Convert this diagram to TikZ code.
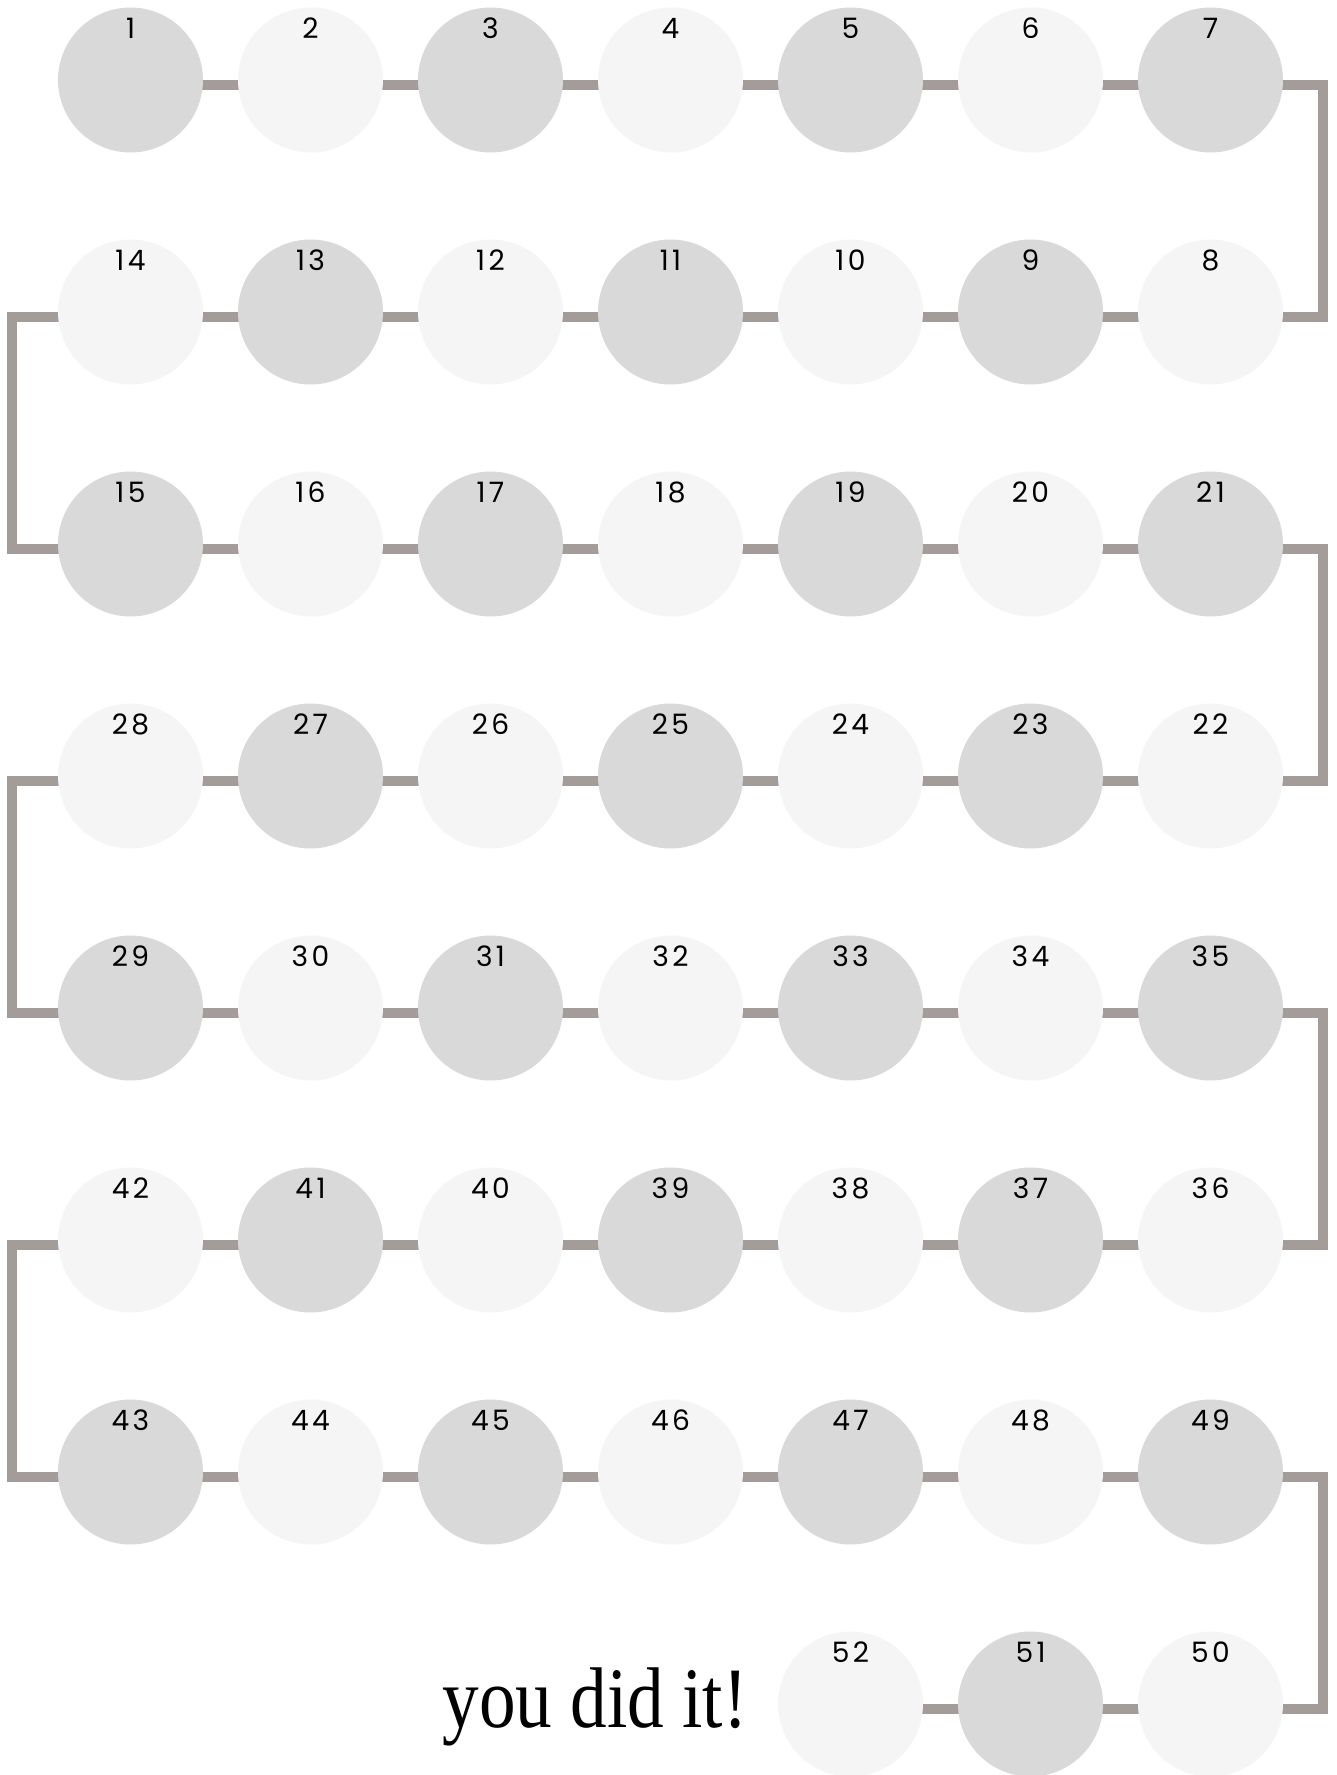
\documentclass[tikz,border=0pt]{standalone}
\usepackage{fontspec}
\setmainfont{Liberation Serif}
\newfontfamily\numfont[LetterSpace=12]{Poppins}
\usetikzlibrary{backgrounds}

\definecolor{beaddark}{HTML}{D9D9D9}
\definecolor{beadlight}{HTML}{F5F5F5}
\definecolor{linkgray}{HTML}{A39C98}

\begin{document}
\begin{tikzpicture}[
  x=0.02cm,y=-0.02cm,
  bead/.style={circle,minimum size=2.9cm,inner sep=0pt,outer sep=0pt},
  bead0/.style={bead,fill=beaddark},
  bead1/.style={bead,fill=beadlight},
  num/.style={font=\numfont\fontsize{16}{16}\selectfont,inner sep=0pt},
  link/.style={draw=linkgray,line width=0.2cm},
  dn/.style={yshift=-0.1cm}]

\useasboundingbox (0,0) rectangle (1337,1775);

% beads, snaking row by row
\foreach \r in {0,...,7}{
  \foreach \c in {0,...,6}{
    \pgfmathtruncatemacro\n{isodd(\r) ? 7*\r+7-\c : 7*\r+\c+1}
    \pgfmathtruncatemacro\k{mod(\r+\c,2)}
    \ifnum\n<53
      \node[bead\k] (c\n) at (130.5+180*\c,80+232*\r) {};
      \node[num] (t\n) at (130.5+180*\c,28+232*\r) {\n};
    \fi
  }
}

\node[font=\fontsize{49}{49}\selectfont,anchor=base] (done) at (595,1727)
  {\scalebox{0.85}[1]{you did it!}};

\begin{scope}[on background layer]
\fill[white] (0,0) rectangle (1337,1775);
\foreach \n in {1,...,51}{
  \pgfmathtruncatemacro\m{\n+1}
  \pgfmathtruncatemacro\e{mod(\n,7)}
  \ifnum\e>0 \draw[link] ([dn]c\n.center) -- ([dn]c\m.center); \fi
}
\draw[link] ([dn]c7.center) -- ++(112.5,0) |- ([dn]c8.center);
\draw[link] ([dn]c21.center) -- ++(112.5,0) |- ([dn]c22.center);
\draw[link] ([dn]c35.center) -- ++(112.5,0) |- ([dn]c36.center);
\draw[link] ([dn]c49.center) -- ++(112.5,0) |- ([dn]c50.center);
\draw[link] ([dn]c14.center) -- ++(-118.5,0) |- ([dn]c15.center);
\draw[link] ([dn]c28.center) -- ++(-118.5,0) |- ([dn]c29.center);
\draw[link] ([dn]c42.center) -- ++(-118.5,0) |- ([dn]c43.center);
\end{scope}
\end{tikzpicture}
\end{document}
